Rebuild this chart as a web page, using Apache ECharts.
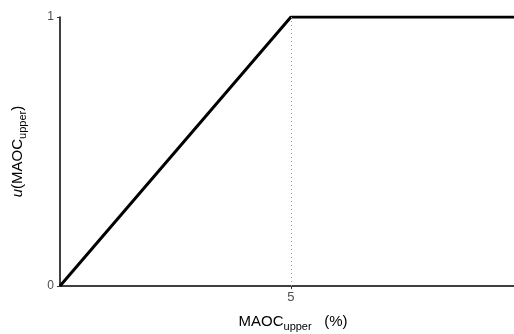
<!DOCTYPE html>
<html>
<head>
<meta charset="utf-8">
<script src="https://cdn.jsdelivr.net/npm/echarts@6/dist/echarts.min.js"></script>
<style>
  html, body { margin: 0; padding: 0; background: #fff; }
  #chart { width: 514px; height: 334px; }
</style>
</head>
<body>
<div id="chart"></div>
<script>
// Utility of MAOC_upper: rises linearly to 1 at 5 %, then stays flat
const maocUpper = [0, 5, 10];
const utility = [0, 1, 1];
const thresholdX = 5;
const xTickValues = [5];
const yTickValues = [0, 1];

const chart = echarts.init(document.getElementById('chart'));
const FONT = '"Liberation Sans", Arial, sans-serif';

chart.setOption({
  animation: false,
  backgroundColor: '#ffffff',
  grid: { left: 60, top: 17, right: 0, height: 269, containLabel: false, outerBoundsMode: 'none' },
  xAxis: {
    type: 'value',
    min: 0,
    max: 9.83,
    name: '{m|MAOC}{s|upper}{m|   (%)}',
    nameLocation: 'middle',
    nameGap: 26,
    nameTextStyle: {
      padding: [0, 0, 0, 12],
      rich: {
        m: { fontFamily: FONT, fontSize: 15, color: '#000' },
        s: { fontFamily: FONT, fontSize: 11, color: '#000', verticalAlign: 'bottom', padding: [9, 0, 0, 0] }
      }
    },
    axisLine: { show: true, lineStyle: { color: '#000', width: 1.5 } },
    axisTick: { show: true, customValues: xTickValues, length: 3, lineStyle: { color: '#333' } },
    axisLabel: { customValues: xTickValues, fontFamily: FONT, fontSize: 13, color: '#4d4d4d', margin: 5 },
    splitLine: { show: false }
  },
  yAxis: {
    type: 'value',
    min: 0,
    max: 1,
    name: '{i|u}{m|(MAOC}{s|upper}{m|)}',
    nameLocation: 'middle',
    nameGap: 32,
    nameRotate: 90,
    nameTextStyle: {
      rich: {
        i: { fontFamily: FONT, fontSize: 15, fontStyle: 'italic', color: '#000' },
        m: { fontFamily: FONT, fontSize: 15, color: '#000' },
        s: { fontFamily: FONT, fontSize: 11, color: '#000', verticalAlign: 'bottom', padding: [9, 0, 0, 0] }
      }
    },
    axisLine: { show: true, lineStyle: { color: '#000', width: 1.5 } },
    axisTick: { show: true, customValues: yTickValues, length: 3, lineStyle: { color: '#333' } },
    axisLabel: { customValues: yTickValues, fontFamily: FONT, fontSize: 12, color: '#4d4d4d', margin: 6 },
    splitLine: { show: false }
  },
  series: [{
    type: 'line',
    data: maocUpper.map((x, i) => [x, utility[i]]),
    showSymbol: false,
    clip: true,
    lineStyle: { color: '#000', width: 3 },
    markLine: {
      silent: true,
      symbol: 'none',
      label: { show: false },
      lineStyle: { color: '#999', type: [1, 3], width: 1 },
      data: [[{ coord: [thresholdX, 0] }, { coord: [thresholdX, 1] }]]
    }
  }]
});
</script>
</body>
</html>
